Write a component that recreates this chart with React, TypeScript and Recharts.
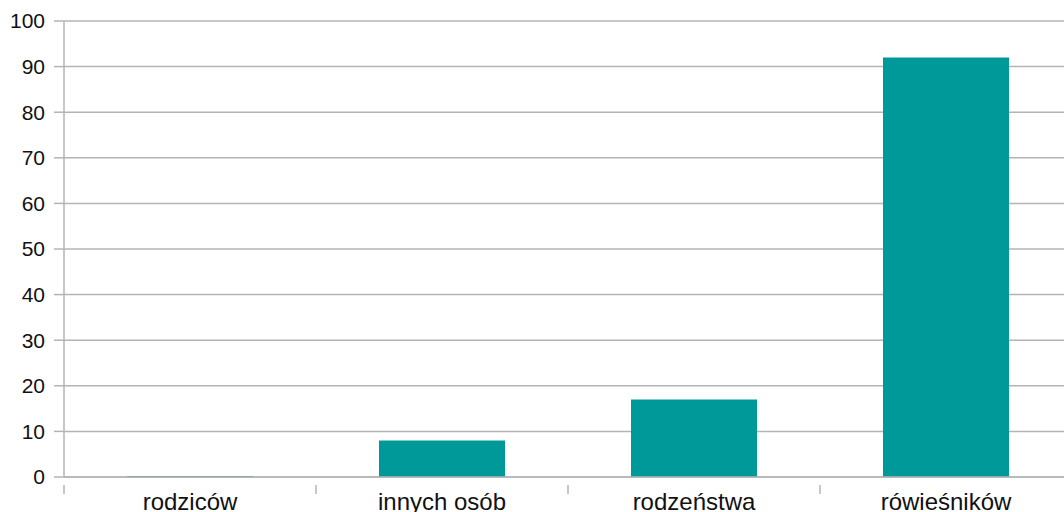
import { BarChart, Bar, XAxis, YAxis, CartesianGrid } from 'recharts';

const categories = ['rodziców', 'innych osób', 'rodzeństwa', 'rówieśników'];
const values = [0.2, 8, 17, 92];
const yTicks = [0, 10, 20, 30, 40, 50, 60, 70, 80, 90, 100];

const data = categories.map((name, i) => ({ name, value: values[i] }));

const W = 1080;
const H = 512;
const margin = { top: 21, right: 8, bottom: 0, left: 0 };
const yAxisWidth = 64;
const band = (W - margin.left - margin.right - yAxisWidth) / categories.length;
const GRID = '#b4b4b4';
const FONT = '"Liberation Sans", Arial, sans-serif';

const CategoryTick = (props: any) => {
  const { x, y, payload, index } = props;
  return (
    <g>
      <line x1={x - band / 2} x2={x - band / 2} y1={y} y2={y + 9} stroke={GRID} strokeWidth={1.5} />
      {index === categories.length - 1 && (
        <line x1={x + band / 2} x2={x + band / 2} y1={y} y2={y + 9} stroke={GRID} strokeWidth={1.5} />
      )}
      <text x={x} y={510} textAnchor="middle" fill="#111" fontSize={24} fontFamily={FONT}>
        {payload.value}
      </text>
    </g>
  );
};

export default function App() {
  return (
    <div style={{ position: 'absolute', left: 0, top: 0, width: 1064, height: 512, overflow: 'hidden', background: '#fff' }}>
      <BarChart width={W} height={H} data={data} margin={margin} barCategoryGap="25%">
        <CartesianGrid vertical={false} stroke={GRID} strokeWidth={1.5} />
        <XAxis
          dataKey="name"
          height={35}
          axisLine={{ stroke: GRID, strokeWidth: 1.5 }}
          tickLine={false}
          tick={<CategoryTick />}
          interval={0}
        />
        <YAxis
          width={yAxisWidth}
          domain={[0, 100]}
          ticks={yTicks}
          interval={0}
          axisLine={{ stroke: GRID, strokeWidth: 1.5 }}
          tickLine={{ stroke: GRID, strokeWidth: 1.5 }}
          tickSize={10}
          tickMargin={9}
          tick={{ fill: '#111', fontSize: 21, fontFamily: FONT }}
        />
        <Bar dataKey="value" fill="#009999" isAnimationActive={false} />
      </BarChart>
    </div>
  );
}
